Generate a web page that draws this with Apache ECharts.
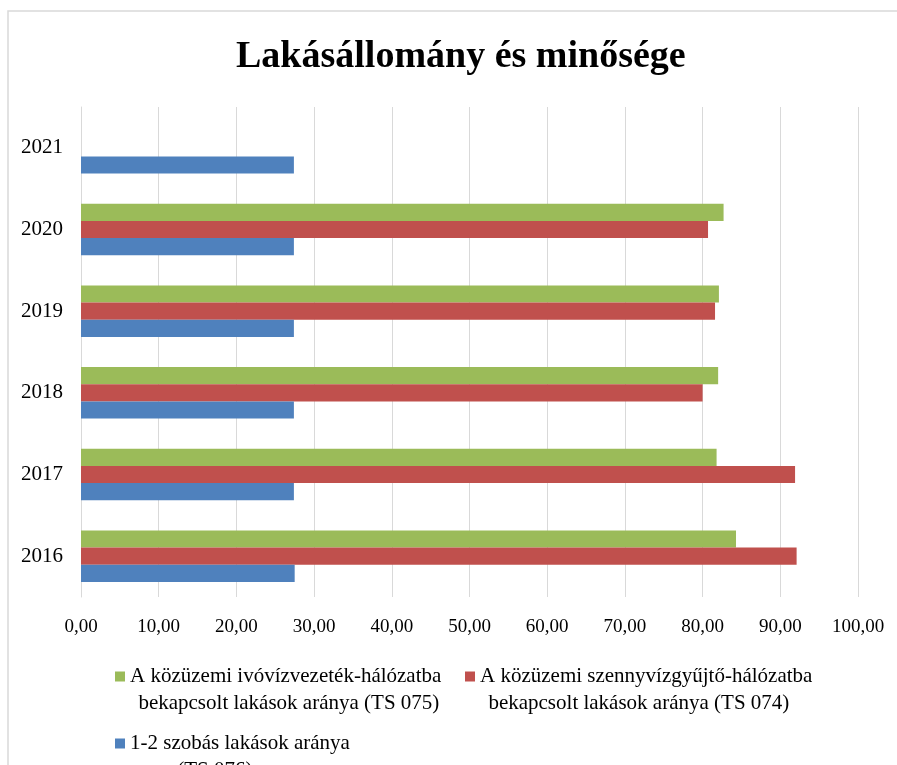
<!DOCTYPE html>
<html>
<head>
    <meta charset="UTF-8">
    <title>Lakásállomány és minősége</title>
    <script type="text/javascript" src="https://cdn.jsdelivr.net/npm/echarts@6/dist/echarts.min.js"></script>
    <style>
        html, body { margin: 0; padding: 0; background: #fff; }
    </style>
</head>
<body>
    <div id="main" style="width: 897px;height:765px;"></div>
    <script type="text/javascript">
// adatok
var years = ['2016', '2017', '2018', '2019', '2020', '2021'];
var ivoviz = [84.3, 81.8, 82.0, 82.1, 82.7, null];       // TS 075
var szennyviz = [92.1, 91.9, 80.0, 81.6, 80.7, null];    // TS 074
var szobas = [27.5, 27.4, 27.4, 27.4, 27.4, 27.4];       // TS 076
var xTicks = { min: 0, max: 100, interval: 10 };

var nameIvo = 'A közüzemi ivóvízvezeték-hálózatba\nbekapcsolt lakások aránya (TS 075)';
var nameSzenny = 'A közüzemi szennyvízgyűjtő-hálózatba\nbekapcsolt lakások aránya (TS 074)';
var nameSzoba = '1-2 szobás lakások aránya\n(TS 076)';

var font = "'Liberation Serif', 'Times New Roman', serif";

var myChart = echarts.init(document.getElementById('main'));

// egy tételes jelmagyarázat; az üres első sor miatt az ikon az első sorhoz igazodik
function legendAt(name, left, top, indent) {
  return {
    data: [name],
    left: left,
    top: top,
    padding: 0,
    itemWidth: 10,
    itemHeight: 10,
    icon: 'rect',
    selectedMode: false,
    formatter: function (n) {
      var parts = n.split('\n');
      return '\n' + parts[0] + '\n' + indent + parts[1];
    },
    textStyle: {
      fontFamily: font,
      fontSize: 21,
      color: '#000',
      lineHeight: 27
    }
  };
}

var option = {
  backgroundColor: '#fff',
  animation: false,
  title: {
    text: 'Lakásállomány és minősége',
    left: 236,
    top: 38,
    padding: 0,
    textStyle: {
      fontFamily: font,
      fontSize: 38,
      fontWeight: 'bold',
      color: '#000'
    }
  },
  graphic: [
    {
      type: 'rect',
      shape: { x: 8, y: 11, width: 905, height: 800 },
      style: { fill: 'none', stroke: '#d9d9d9', lineWidth: 1.5 },
      silent: true,
      z: -1
    }
  ],
  legend: [
    legendAt(nameIvo, 115, 636, '\u2009\u2009'),
    legendAt(nameSzenny, 465, 636, '\u2009\u2009'),
    legendAt(nameSzoba, 115, 703, '         ')
  ],
  grid: {
    left: 81,
    top: 107,
    width: 777,
    height: 490,
    containLabel: false
  },
  xAxis: {
    type: 'value',
    min: xTicks.min,
    max: xTicks.max,
    interval: xTicks.interval,
    axisLine: { show: false },
    axisTick: { show: false },
    splitLine: { show: true, lineStyle: { color: '#d9d9d9', width: 1 } },
    axisLabel: {
      fontFamily: font,
      fontSize: 19,
      color: '#000',
      margin: 21,
      formatter: function (v) { return v.toFixed(2).replace('.', ','); }
    }
  },
  yAxis: {
    type: 'category',
    data: years,
    axisLine: { show: true, lineStyle: { color: '#d9d9d9' } },
    axisTick: { show: false },
    splitLine: { show: false },
    axisLabel: {
      fontFamily: font,
      fontSize: 21,
      color: '#000',
      margin: 18
    }
  },
  series: [
    {
      name: nameIvo,
      type: 'bar',
      data: ivoviz,
      barGap: '0%',
      barCategoryGap: '37%',
      itemStyle: { color: '#9BBB59' }
    },
    {
      name: nameSzenny,
      type: 'bar',
      data: szennyviz,
      barGap: '0%',
      barCategoryGap: '37%',
      itemStyle: { color: '#C0504D' }
    },
    {
      name: nameSzoba,
      type: 'bar',
      data: szobas,
      barGap: '0%',
      barCategoryGap: '37%',
      itemStyle: { color: '#4F81BD' }
    }
  ]
};

myChart.setOption(option);
    </script>
</body>
</html>
